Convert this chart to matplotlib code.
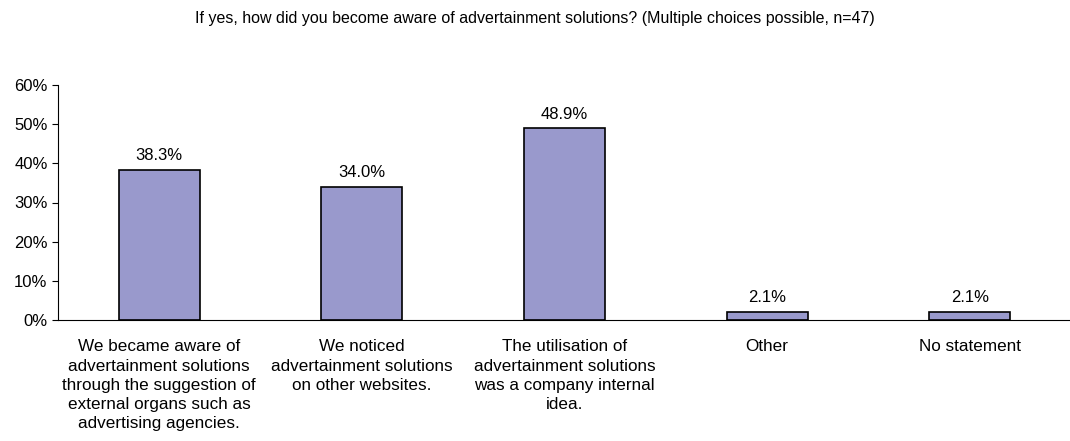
#!/usr/bin/env python3
"""Bar chart: how companies became aware of advertainment solutions."""

import matplotlib

matplotlib.use("Agg")
import matplotlib.pyplot as plt
from matplotlib.ticker import FuncFormatter

categories = [
    "We became aware of\nadvertainment solutions\nthrough the suggestion of\nexternal organs such as\nadvertising agencies.",
    "We noticed\nadvertainment solutions\non other websites.",
    "The utilisation of\nadvertainment solutions\nwas a company internal\nidea.",
    "Other",
    "No statement",
]
shares = [38.3, 34.0, 48.9, 2.1, 2.1]
y_ticks = [0, 10, 20, 30, 40, 50, 60]

title = "If yes, how did you become aware of advertainment solutions? (Multiple choices possible, n=47)"

plt.rcParams["font.family"] = ["Liberation Sans", "DejaVu Sans"]

fig = plt.figure(figsize=(10.70, 4.41), dpi=100)
ax = fig.add_axes([58 / 1070, 1 - 320 / 441, 1013 / 1070, 235 / 441])

x = list(range(len(categories)))
bars = ax.bar(x, shares, width=0.40, color="#9999cc", edgecolor="black", linewidth=1.2)

for rect, val in zip(bars, shares):
    ax.annotate(
        f"{val:.1f}%",
        (rect.get_x() + rect.get_width() / 2, rect.get_height()),
        xytext=(0, 5),
        textcoords="offset points",
        ha="center",
        va="bottom",
        fontsize=12,
    )

ax.set_xlim(-0.5, len(categories) - 0.5)
ax.set_ylim(0, 60)
ax.set_yticks(y_ticks)
ax.yaxis.set_major_formatter(FuncFormatter(lambda v, _: f"{v:.0f}%"))
ax.tick_params(axis="y", labelsize=12, length=4, width=0.8, direction="out")

ax.set_xticks(x)
ax.set_xticklabels(categories, fontsize=12.3, linespacing=1.35)
ax.tick_params(axis="x", length=0, pad=14)

for side in ("top", "right"):
    ax.spines[side].set_visible(False)
ax.spines["left"].set_linewidth(0.8)
ax.spines["bottom"].set_linewidth(0.8)

fig.text(0.5, 1 - 19 / 441, title, ha="center", va="center", fontsize=11.5)

fig.savefig("out.png", dpi=100)
